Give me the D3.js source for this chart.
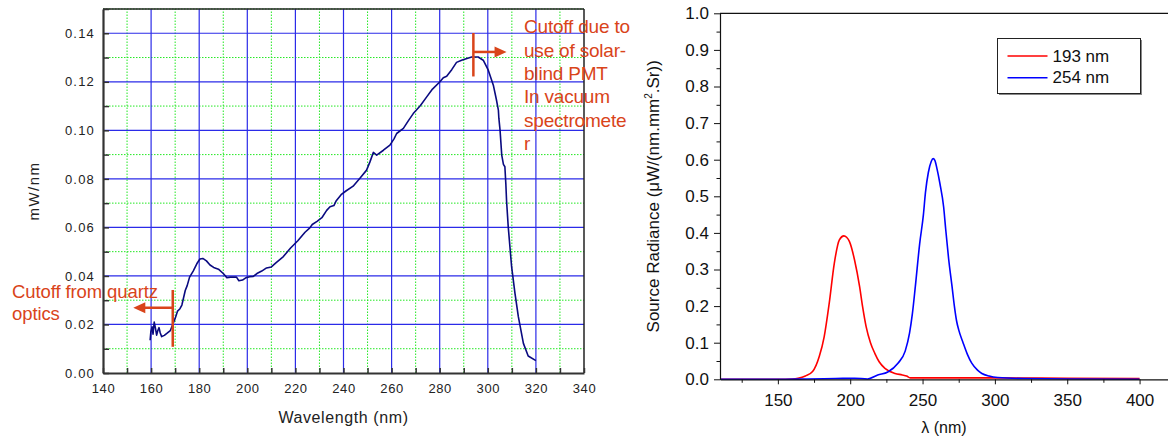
<!DOCTYPE html>
<html>
<head>
<meta charset="utf-8">
<script src="https://cdn.jsdelivr.net/npm/d3@7"></script>
<style>
  body { margin: 0; background: #fff; }
  svg { display: block; font-family: "Liberation Sans", Arial, sans-serif; }
</style>
</head>
<body>
<script>
// Left chart: detector output vs wavelength
const wlNm = [159.6,159.9,160.4,160.8,161.3,161.8,162.3,162.8,163.3,163.8,164.4,165.5,166.8,168,169,170,171,172,172.8,173.5,
  174.2,175,176,177.5,179,180.3,181.5,183,184.5,186,188,190,191.5,193,195.5,196.5,198,199.5,201,202.5,
  204,206,208,210,212,215,218,221,224,226,227,229,231,233,234.4,236,237,239,241,244,
  247,249.6,251,252.4,253.8,256.6,259.3,261,262.1,264.9,267,269,272,274.6,277,280.1,281.5,282.9,285,287,
  289.1,291,293.3,296,298.1,300.2,302.3,303.5,304.4,304.6,305.1,305.8,306.5,307.1,307.5,307.8,308.5,309.9,311.3,312.7,
  314.8,316.8,320];
const mwPerNm = [0.0135,0.017,0.019,0.016,0.021,0.0185,0.0156,0.0175,0.0187,0.0165,0.015,0.0155,0.0165,0.0175,0.02,0.0225,0.0255,0.0265,0.028,0.031,
  0.034,0.036,0.0395,0.042,0.045,0.047,0.0472,0.0462,0.0445,0.0435,0.0428,0.041,0.0393,0.0395,0.0395,0.038,0.0383,0.0393,0.0397,0.0398,
  0.041,0.042,0.0433,0.0437,0.0455,0.048,0.0515,0.0545,0.058,0.0598,0.0612,0.0625,0.064,0.067,0.0685,0.069,0.071,0.0735,0.075,0.077,
  0.0805,0.0836,0.087,0.0909,0.0898,0.0918,0.0939,0.0965,0.0987,0.1008,0.104,0.1069,0.1102,0.1138,0.117,0.12,0.1217,0.1223,0.125,0.128,
  0.1289,0.1295,0.1302,0.1302,0.1289,0.1248,0.1186,0.113,0.1083,0.105,0.1,0.0898,0.086,0.085,0.078,0.071,0.0602,0.0438,0.0328,0.0232,
  0.0122,0.007,0.0051];
const leftXTicks = d3.range(140, 341, 10);
const leftYTicks = d3.range(0, 0.1501, 0.01);

// Right chart: source radiance of two lamps
const nm193 = [110,150,160,164,169,174,178.6,182,185.5,189,192.5,195.6,197.5,199.5,203,206.5,208.5,211,214,217,220,224,231,236,239,241.5,250,300,350,400];
const rad193 = [0,0,0.001,0.003,0.009,0.021,0.062,0.116,0.208,0.317,0.381,0.392,0.388,0.376,0.326,0.253,0.2,0.144,0.1,0.071,0.048,0.03,0.016,0.012,0.009,0.004,0.004,0.004,0.003,0.002];
const nm254 = [110,150,170,190,203,212,219,226,233,238,241,243,245,248,250.6,252,254,256,257.3,258.5,260,262,264.6,266,268,270.4,272,273.5,275,278,281,284,288,291,296,302,320,350,400];
const rad254 = [0,0,0.001,0.002,0.003,0.001,0.012,0.02,0.044,0.077,0.126,0.18,0.253,0.37,0.45,0.51,0.565,0.595,0.603,0.598,0.575,0.535,0.47,0.41,0.33,0.253,0.2,0.16,0.135,0.1,0.068,0.044,0.025,0.016,0.009,0.005,0.002,0.001,0];
const seriesNames = ["193 nm", "254 nm"];
const seriesColors = ["#ff0000", "#0000ff"];
const rightXMajor = d3.range(150, 401, 50);
const rightXMinor = d3.range(125, 401, 50);
const rightYMajor = d3.range(0, 1.001, 0.1);
const rightYMinor = d3.range(0.05, 1, 0.1);

const svg = d3.select("body").append("svg")
  .attr("width", 1168)
  .attr("height", 440);

svg.append("rect").attr("width", 1168).attr("height", 440).attr("fill", "#fff");

// ---------- left chart ----------
const xL = d3.scaleLinear().domain([140, 340]).range([103, 584]);
const yL = d3.scaleLinear().domain([0, 0.15]).range([373, 9]);
const red = "#d9441a";

const gL = svg.append("g");

// minor grid (green dotted)
gL.selectAll("line.vminor")
  .data(leftXTicks.filter(d => d % 20 === 10))
  .enter().append("line")
  .attr("x1", d => xL(d)).attr("x2", d => xL(d))
  .attr("y1", yL(0)).attr("y2", yL(0.15))
  .attr("stroke", "#22e822").attr("stroke-width", 1).attr("stroke-dasharray", "1.5,1.5");

gL.selectAll("line.hminor")
  .data(leftYTicks.filter((d, i) => i % 2 === 1))
  .enter().append("line")
  .attr("x1", xL(140)).attr("x2", xL(340))
  .attr("y1", d => yL(d)).attr("y2", d => yL(d))
  .attr("stroke", "#22e822").attr("stroke-width", 1).attr("stroke-dasharray", "1.5,1.5");

// major grid (blue)
gL.selectAll("line.vmajor")
  .data(leftXTicks.filter(d => d % 20 === 0 && d > 140 && d < 340))
  .enter().append("line")
  .attr("x1", d => xL(d)).attr("x2", d => xL(d))
  .attr("y1", yL(0)).attr("y2", yL(0.15))
  .attr("stroke", "#2b2be8").attr("stroke-width", 1.2);

gL.selectAll("line.hmajor")
  .data(leftYTicks.filter((d, i) => i % 2 === 0 && i > 0))
  .enter().append("line")
  .attr("x1", xL(140)).attr("x2", xL(340))
  .attr("y1", d => yL(d)).attr("y2", d => yL(d))
  .attr("stroke", "#2b2be8").attr("stroke-width", 1.2);

// frame top/right
gL.append("line")
  .attr("x1", xL(140)).attr("x2", xL(340)).attr("y1", yL(0.15)).attr("y2", yL(0.15))
  .attr("stroke", "#222").attr("stroke-width", 1.5);
gL.append("line")
  .attr("x1", xL(340)).attr("x2", xL(340)).attr("y1", yL(0)).attr("y2", yL(0.15))
  .attr("stroke", "#222").attr("stroke-width", 1.5);

// axes
const axL = gL.append("g")
  .attr("transform", `translate(0,${yL(0)})`)
  .call(d3.axisBottom(xL).tickValues(leftXTicks).tickSize(-5).tickSizeOuter(0).tickPadding(10.5)
    .tickFormat(d => d % 20 === 0 ? d : ""));
const ayL = gL.append("g")
  .attr("transform", `translate(${xL(140)},0)`)
  .call(d3.axisLeft(yL).tickValues(leftYTicks).tickSize(-6).tickSizeOuter(0).tickPadding(8)
    .tickFormat((d, i) => i % 2 === 0 ? d3.format(".2f")(d) : ""));

[axL, ayL].forEach(a => {
  a.select(".domain").attr("stroke", "#333").attr("stroke-width", 2.2);
  a.selectAll(".tick line").attr("stroke", "#333").attr("stroke-width", 1.5);
  a.selectAll("text").attr("fill", "#222").attr("font-size", 13)
    .attr("font-family", "'Liberation Sans', Arial, sans-serif");
});
axL.selectAll("text").style("letter-spacing", "0.6px");
ayL.selectAll("text").style("letter-spacing", "1.2px");

// curve
gL.append("path")
  .datum(wlNm.map((d, i) => [d, mwPerNm[i]]))
  .attr("fill", "none")
  .attr("stroke", "#0a0a80")
  .attr("stroke-width", 1.6)
  .attr("stroke-linejoin", "round")
  .attr("d", d3.line().x(d => xL(d[0])).y(d => yL(d[1])));

// axis titles
gL.append("text")
  .attr("x", (xL(140) + xL(340)) / 2).attr("y", 423)
  .attr("text-anchor", "middle").attr("font-size", 16).style("letter-spacing", "0.6px")
  .attr("fill", "#222").text("Wavelength (nm)");
gL.append("text")
  .attr("transform", `translate(39,${(yL(0) + yL(0.15)) / 2}) rotate(-90)`)
  .attr("text-anchor", "middle").attr("font-size", 15).style("letter-spacing", "1.5px")
  .attr("fill", "#222").text("mW/nm");

// annotations
const arrowHead = (g, x, y, dir) => {
  g.append("path")
    .attr("d", `M${x},${y} l${-dir * 12},-5.5 l0,11 z`)
    .attr("fill", red);
};

gL.append("line")
  .attr("x1", xL(169)).attr("x2", xL(169)).attr("y1", yL(0.0342)).attr("y2", yL(0.0108))
  .attr("stroke", red).attr("stroke-width", 2.5);
gL.append("line")
  .attr("x1", xL(169)).attr("x2", xL(155)).attr("y1", yL(0.0269)).attr("y2", yL(0.0269))
  .attr("stroke", red).attr("stroke-width", 2.5);
arrowHead(gL, xL(152.6), yL(0.0269), -1);

gL.append("line")
  .attr("x1", xL(294)).attr("x2", xL(294)).attr("y1", yL(0.1401)).attr("y2", yL(0.1222))
  .attr("stroke", red).attr("stroke-width", 2.5);
gL.append("line")
  .attr("x1", xL(294)).attr("x2", xL(305)).attr("y1", yL(0.1323)).attr("y2", yL(0.1323))
  .attr("stroke", red).attr("stroke-width", 2.5);
arrowHead(gL, xL(307.8), yL(0.1323), 1);

const noteLeft = ["Cutoff from quartz", "optics"];
gL.selectAll("text.noteL")
  .data(noteLeft).enter().append("text")
  .attr("x", 12).attr("y", (d, i) => 297.5 + i * 22)
  .attr("font-size", 18.5).attr("fill", red).style("letter-spacing", "-0.1px")
  .text(d => d);

const noteRight = ["Cutoff due to", "use of solar-", "blind PMT", "In vacuum", "spectromete", "r"];
gL.selectAll("text.noteR")
  .data(noteRight).enter().append("text")
  .attr("x", 524).attr("y", (d, i) => 33.3 + i * 23.35)
  .attr("font-size", 19).attr("fill", red).style("letter-spacing", "-0.2px")
  .text(d => d);

// ---------- right chart ----------
const xR = d3.scaleLinear().domain([110, 420]).range([720, 1168.5]);
const yR = d3.scaleLinear().domain([0, 1]).range([379.3, 13.3]);
const gR = svg.append("g");

gR.append("line")
  .attr("x1", xR(110)).attr("x2", xR(420)).attr("y1", yR(1)).attr("y2", yR(1))
  .attr("stroke", "#111").attr("stroke-width", 1.2);

const lineR = d3.line().curve(d3.curveMonotoneX).x(d => xR(d[0])).y(d => yR(d[1]));
const seriesData = [
  nm193.map((d, i) => [d, rad193[i]]),
  nm254.map((d, i) => [d, rad254[i]])
];
gR.selectAll("path.series")
  .data(seriesData).enter().append("path")
  .attr("fill", "none")
  .attr("stroke", (d, i) => seriesColors[i])
  .attr("stroke-width", 1.6)
  .attr("d", lineR);

const fontR = "'Liberation Sans', Arial, sans-serif";
const styleAxis = a => {
  a.select(".domain").attr("stroke", "#111").attr("stroke-width", 1.2);
  a.selectAll(".tick line").attr("stroke", "#111").attr("stroke-width", 1);
  a.selectAll("text").attr("fill", "#111").attr("font-size", 17).attr("font-family", fontR);
};

const axR = gR.append("g").attr("transform", `translate(0,${yR(0)})`)
  .call(d3.axisBottom(xR).tickValues(rightXMajor).tickSize(5).tickSizeOuter(0).tickPadding(9.6));
styleAxis(axR);
const axRm = gR.append("g").attr("transform", `translate(0,${yR(0)})`)
  .call(d3.axisBottom(xR).tickValues(rightXMinor).tickSize(3.5).tickSizeOuter(0).tickFormat(""));
styleAxis(axRm);
axRm.select(".domain").remove();

const ayR = gR.append("g").attr("transform", `translate(${xR(110)},0)`)
  .call(d3.axisLeft(yR).tickValues(rightYMajor).tickSize(6).tickSizeOuter(0).tickPadding(5)
    .tickFormat(d3.format(".1f")));
styleAxis(ayR);
const ayRm = gR.append("g").attr("transform", `translate(${xR(110)},0)`)
  .call(d3.axisLeft(yR).tickValues(rightYMinor).tickSize(3.5).tickSizeOuter(0).tickFormat(""));
styleAxis(ayRm);
ayRm.select(".domain").remove();

// titles
gR.append("text")
  .attr("x", (xR(110) + 1168) / 2).attr("y", 433)
  .attr("text-anchor", "middle").attr("font-size", 16).attr("fill", "#111")
  .text("λ (nm)");

const yTitle = gR.append("text")
  .attr("transform", `translate(659,${(yR(0) + yR(1)) / 2}) rotate(-90)`)
  .attr("text-anchor", "middle").attr("font-size", 17).attr("fill", "#111");
yTitle.append("tspan").text("Source Radiance (μW/(nm.mm");
yTitle.append("tspan").attr("font-size", 10).attr("dy", -7).text("2");
yTitle.append("tspan").attr("dy", 7).text(".Sr))");

// legend
const lg = gR.append("g").attr("transform", "translate(997.5,38.5)");
lg.append("rect").attr("x", 1.5).attr("y", 1.5).attr("width", 143).attr("height", 55)
  .attr("fill", "#888");
lg.append("rect").attr("width", 143).attr("height", 55)
  .attr("fill", "#fff").attr("stroke", "#222").attr("stroke-width", 1);
seriesNames.forEach((name, i) => {
  lg.append("line")
    .attr("x1", 10).attr("x2", 50).attr("y1", 17.5 + i * 21.7).attr("y2", 17.5 + i * 21.7)
    .attr("stroke", seriesColors[i]).attr("stroke-width", 1.6);
  lg.append("text")
    .attr("x", 55).attr("y", 23.2 + i * 21.2)
    .attr("font-size", 17).attr("fill", "#111")
    .text(name);
});
</script>
</body>
</html>
